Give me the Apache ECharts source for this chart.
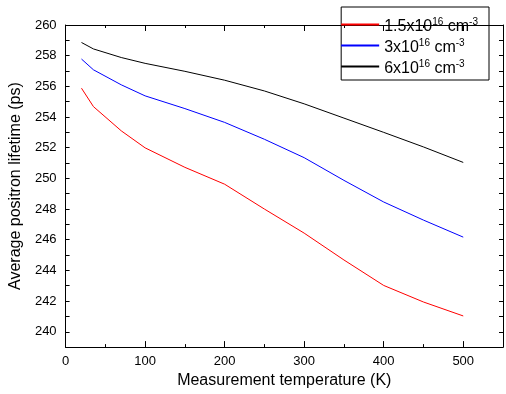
<!DOCTYPE html>
<html><head><meta charset="utf-8">
<script src="https://cdn.jsdelivr.net/npm/echarts@6/dist/echarts.min.js"></script>
<style>html,body{margin:0;padding:0;background:#fff}#c{width:506px;height:394px}</style>
</head><body><div id="c"></div>
<script>
var temps = [20, 35, 70, 100, 150, 200, 250, 300, 350, 400, 450, 500];
var low  = [255.88, 254.68, 253.10, 251.99, 250.72, 249.62, 248.00, 246.43, 244.68, 243.02, 241.94, 241.03];
var mid  = [257.78, 257.08, 256.10, 255.38, 254.55, 253.65, 252.55, 251.35, 249.87, 248.46, 247.28, 246.17];
var high = [258.86, 258.44, 257.88, 257.50, 256.98, 256.40, 255.70, 254.86, 253.93, 253.00, 252.05, 251.04];
var names = ['{n|1.5x10}{s|16}{n| cm}{s|-3}', '{n|3x10}{s|16}{n| cm}{s|-3}', '{n|6x10}{s|16}{n| cm}{s|-3}'];
var keys = ['a', 'b', 'c'];
var colors = ['#ff0000', '#0000ff', '#000000'];
var allData = [low, mid, high];

var font = 'Liberation Sans, Arial, sans-serif';
function pairs(arr){ return temps.map(function(t,i){ return [t, arr[i]]; }); }

var chart = echarts.init(document.getElementById('c'), null, {renderer:'canvas'});
var series = allData.map(function(d, i){
  return { name: keys[i], type:'line', data: pairs(d), symbol:'none', smooth:false,
    lineStyle:{color:colors[i], width:1}, itemStyle:{color:colors[i]}, xAxisIndex:0, yAxisIndex:0 };
});
var xCommon = {
  axisLine:{show:true, onZero:false, lineStyle:{color:'#000', width:1}},
  axisTick:{show:true, inside:true, length:6, lineStyle:{color:'#000'}},
  minorTick:{show:true, splitNumber:2, length:3, lineStyle:{color:'#000'}},
  splitLine:{show:false}
};
var yCommon = {
  axisLine:{show:true, onZero:false, lineStyle:{color:'#000', width:1}},
  axisTick:{show:true, inside:true, length:4, lineStyle:{color:'#000'}},
  minorTick:{show:false},
  splitLine:{show:false}
};
var option = {
  animation:false,
  backgroundColor:'#fff',
  grid:{left:62, top:25, width:447, height:327, containLabel:false},
  legend:{
    data: keys, right: 17, top: 7, orient:'vertical', itemGap: 3,
    borderColor:'#000', borderWidth:1, padding:[10, 11, 3, 0],
    itemWidth:38, itemHeight:2, icon:'rect',
    formatter: function(n){ return names[keys.indexOf(n)]; },
    textStyle:{ fontFamily:font, fontSize:16, color:'#000',
      rich:{
        n:{fontSize:16, fontFamily:font, color:'#000', padding:[5,0,0,0]},
        s:{fontSize:10, fontFamily:font, color:'#000', padding:[0,0,5,0]}
      } }
  },
  xAxis:[
    Object.assign({}, xCommon, {type:'value', min:0, max:550, interval:100, position:'bottom',
      name:'Measurement temperature (K)', nameLocation:'middle', nameGap:24,
      nameTextStyle:{fontFamily:font, fontSize:16, color:'#000'},
      axisLabel:{fontFamily:font, fontSize:13, color:'#000', margin:8,
        formatter:function(v){ return v<=500 ? String(v) : ''; }}}),
    Object.assign({}, xCommon, {type:'value', min:0, max:550, interval:100, position:'top',
      axisLabel:{show:false}})
  ],
  yAxis:[
    Object.assign({}, yCommon, {type:'value', min:239, max:260, interval:1, position:'left',
      name:'Average positron lifetime (ps)', nameLocation:'middle', nameGap:40,
      nameTextStyle:{fontFamily:font, fontSize:16, color:'#000'},
      axisLabel:{fontFamily:font, fontSize:13, color:'#000', margin:9,
        formatter:function(v){ return (Math.round(v) % 2 === 0) ? String(v) : ''; }}}),
    Object.assign({}, yCommon, {type:'value', min:239, max:260, interval:1, position:'right',
      axisLabel:{show:false}})
  ],
  series: series
};
chart.setOption(option);
</script></body></html>
